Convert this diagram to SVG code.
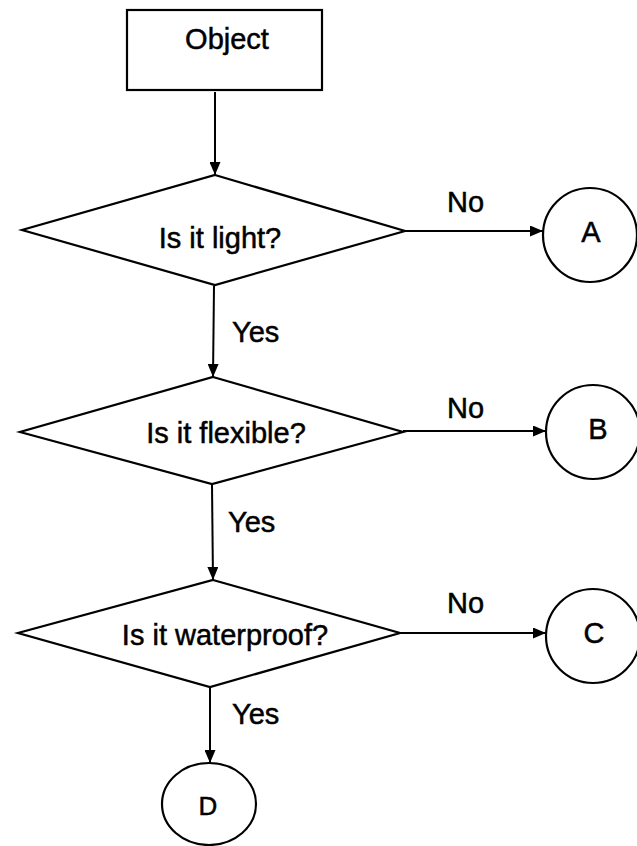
<svg xmlns="http://www.w3.org/2000/svg" width="637" height="846" viewBox="0 0 637 846">
<defs>
<style>
.shape{fill:#fff;stroke:#000;stroke-width:2.2}
.line{fill:none;stroke:#000;stroke-width:2}
text{font-family:"Liberation Sans",Arial,sans-serif;fill:#000;font-size:29px;stroke:#000;stroke-width:0.5}
.c{text-anchor:middle}
</style>
<marker id="ah" viewBox="0 0 13 11" refX="13" refY="5.5" markerWidth="13" markerHeight="11" markerUnits="userSpaceOnUse" orient="auto">
<path d="M0,0 L13,5.5 L0,11 Z" fill="#000"/>
</marker>
</defs>
<rect width="637" height="846" fill="#fff"/>
<g id="object">
<rect class="shape" x="127" y="10" width="195" height="80"/>
<text class="c" x="227" y="49">Object</text>
</g>
<g id="q1">
<polygon class="shape" points="215,175 405,231 215,285 22,230"/>
<text class="c" x="220" y="248">Is it light?</text>
</g>
<g id="q2">
<polygon class="shape" points="213,377 403,432 212,484 20,432"/>
<text class="c" x="226" y="443">Is it flexible?</text>
</g>
<g id="q3">
<polygon class="shape" points="213,580 400,633 210,687 18,633"/>
<text class="c" x="225" y="645">Is it waterproof?</text>
</g>
<g id="A">
<circle class="shape" cx="590" cy="235" r="47"/>
<text class="c" x="591" y="242">A</text>
</g>
<g id="B">
<circle class="shape" cx="593" cy="432" r="47"/>
<text class="c" x="598" y="439">B</text>
</g>
<g id="C">
<circle class="shape" cx="593" cy="636" r="47"/>
<text class="c" x="594" y="643">C</text>
</g>
<g id="D">
<ellipse class="shape" cx="209" cy="804" rx="47" ry="41"/>
<text class="c" x="208" y="815" style="font-size:26px">D</text>
</g>
<g id="connectors">
<line class="line" x1="215" y1="92" x2="215" y2="175" marker-end="url(#ah)"/>
<line class="line" x1="405" y1="231" x2="543" y2="231" marker-end="url(#ah)"/>
<line class="line" x1="214" y1="286" x2="213" y2="377" marker-end="url(#ah)"/>
<line class="line" x1="403" y1="431" x2="546" y2="431" marker-end="url(#ah)"/>
<line class="line" x1="212" y1="485" x2="213" y2="580" marker-end="url(#ah)"/>
<line class="line" x1="400" y1="633" x2="546" y2="633" marker-end="url(#ah)"/>
<line class="line" x1="210" y1="688" x2="210" y2="763" marker-end="url(#ah)"/>
<text x="447" y="212">No</text>
<text x="447" y="418">No</text>
<text x="447" y="613">No</text>
<text x="232" y="342">Yes</text>
<text x="228" y="532">Yes</text>
<text x="232" y="724">Yes</text>
</g>
</svg>
